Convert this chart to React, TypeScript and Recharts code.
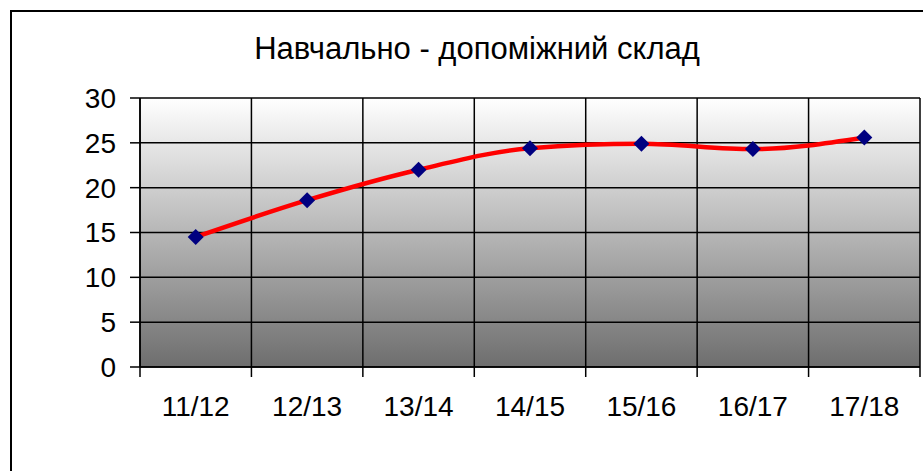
import React from 'react';
import { LineChart, Line, XAxis, YAxis, CartesianGrid } from 'recharts';

const title = 'Навчально - допоміжний склад';
const seasons = ['11/12', '12/13', '13/14', '14/15', '15/16', '16/17', '17/18'];
const staff = [14.5, 18.6, 22.0, 24.4, 24.9, 24.3, 25.6];
const yTicks = [0, 5, 10, 15, 20, 25, 30];

const data = seasons.map((season, i) => ({ season, pos: i + 0.5, value: staff[i] }));
const xTicks = seasons.map((_, i) => i).concat(seasons.length);

const W = 923;
const H = 471;
const margin = { top: 98, right: 3, left: 0, bottom: 44 };
const yAxisWidth = 140;
const band = (W - margin.right - margin.left - yAxisWidth) / seasons.length;
const font = '"Liberation Sans", Arial, sans-serif';

const XTick = ({ x, y, payload }: any) => {
  if (payload.value >= seasons.length) return null;
  return (
    <text x={x + band / 2} y={y} dy="0.71em" textAnchor="middle" fill="#000" fontSize={28} fontFamily={font}>
      {seasons[payload.value]}
    </text>
  );
};

const Diamond = ({ cx, cy }: any) => {
  if (cx == null || cy == null) return null;
  const r = 8;
  return (
    <polygon
      points={`${cx},${cy - r} ${cx + r},${cy} ${cx},${cy + r} ${cx - r},${cy}`}
      fill="#000080"
    />
  );
};

export default function App() {
  return (
    <div style={{ position: 'fixed', left: 0, top: 0, width: W, height: H, overflow: 'hidden', background: '#fff' }}>
      <div
        style={{
          position: 'absolute',
          left: 10,
          top: 10,
          width: 1000,
          height: 600,
          border: '2px solid #000',
        }}
      />
      <div
        style={{
          position: 'absolute',
          left: 0,
          top: 31,
          width: 954,
          textAlign: 'center',
          fontFamily: font,
          fontSize: 31,
          color: '#000',
        }}
      >
        {title}
      </div>
      <div style={{ position: 'absolute', left: 0, top: 0 }}>
        <LineChart width={W} height={H} data={data} margin={margin}>
          <defs>
            <linearGradient id="plotBg" x1="0" y1="0" x2="0" y2="1">
              <stop offset="0%" stopColor="#ffffff" />
              <stop offset="100%" stopColor="#6e6e6e" />
            </linearGradient>
          </defs>
          <CartesianGrid stroke="#000" strokeWidth={1.5} fill="url(#plotBg)" fillOpacity={1} />
          <XAxis
            dataKey="pos"
            type="number"
            domain={[0, seasons.length]}
            ticks={xTicks}
            interval={0}
            height={60}
            tickSize={10}
            tickMargin={19}
            axisLine={{ stroke: '#000', strokeWidth: 1.5 }}
            tickLine={{ stroke: '#000', strokeWidth: 1.5 }}
            tick={<XTick />}
          />
          <YAxis
            domain={[0, 30]}
            ticks={yTicks}
            interval={0}
            width={yAxisWidth}
            tickSize={10}
            tickMargin={14}
            axisLine={{ stroke: '#000', strokeWidth: 1.5 }}
            tickLine={{ stroke: '#000', strokeWidth: 1.5 }}
            tick={{ fill: '#000', fontSize: 28, fontFamily: font }}
          />
          <Line
            type="monotone"
            dataKey="value"
            stroke="#ff0000"
            strokeWidth={4.5}
            dot={<Diamond />}
            activeDot={false}
            isAnimationActive={false}
          />
        </LineChart>
      </div>
    </div>
  );
}
